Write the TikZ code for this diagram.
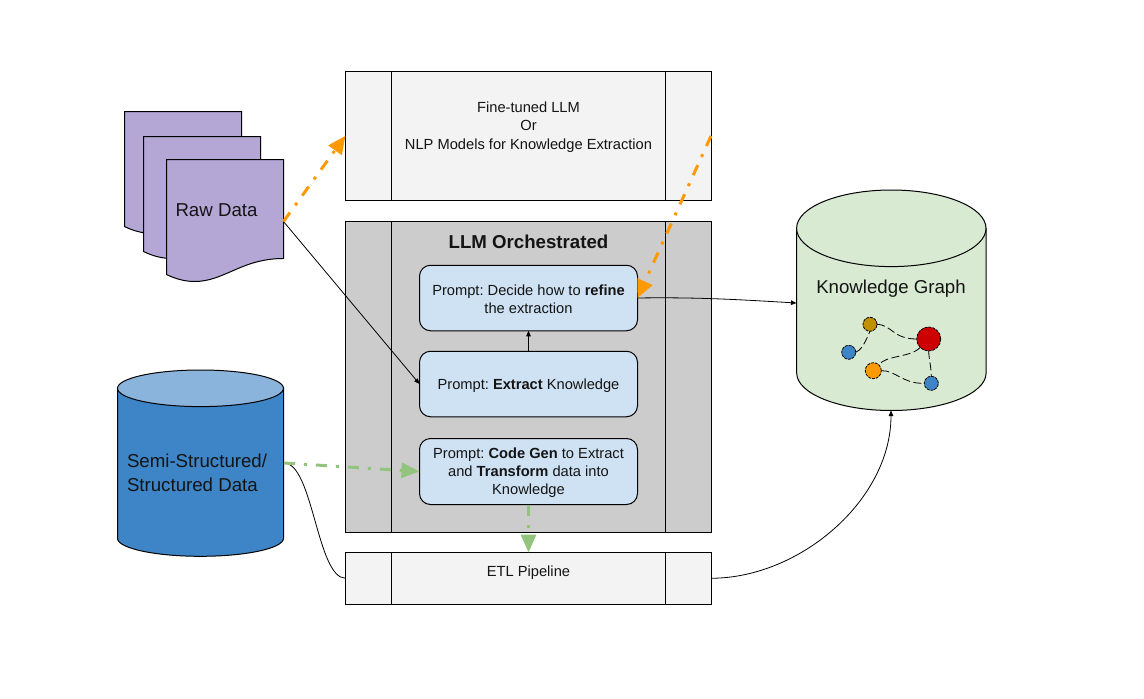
\documentclass[tikz,border=0pt]{standalone}
\usepackage{fontspec}
\setmainfont{Liberation Sans}
\usetikzlibrary{arrows.meta,calc}
\AtBeginDocument{\frenchspacing}
\definecolor{procgray}{HTML}{F3F3F3}
\definecolor{llmgray}{HTML}{CCCCCC}
\definecolor{promptblue}{HTML}{CFE2F3}
\definecolor{docpurple}{HTML}{B4A7D6}
\definecolor{dbblue}{HTML}{3D85C6}
\definecolor{dbtop}{HTML}{8AB4DC}
\definecolor{kggreen}{HTML}{D9EAD3}
\definecolor{flowgreen}{HTML}{93C47D}
\definecolor{floworange}{HTML}{FF9900}
\definecolor{nodered}{HTML}{CC0000}
\definecolor{nodetan}{HTML}{BF9000}
\tikzset{
  x=1pt,y=-1pt,
  every node/.style={inner sep=0pt,outer sep=0pt,text=black!92,align=center},
  procbox/.style={draw=black,line width=1pt,rectangle,minimum width=366pt},
  promptbox/.style={draw=black,line width=1pt,rounded corners=11pt,fill=promptblue,minimum width=218pt,minimum height=65.5pt,font=\fontsize{14.67}{18}\selectfont},
  docshape/.style={draw=black,line width=1pt,fill=docpurple},
  dbshape/.style={draw=black,line width=1pt},
  blacklink/.style={draw=black,line width=0.8pt,-{Triangle[length=5.5pt,width=4.5pt]}},
  plainlink/.style={draw=black,line width=0.8pt},
  orangelink/.style={draw=floworange,line width=3pt,dash pattern=on 11pt off 9pt on 3pt off 9pt,-{Triangle[length=18pt,width=16pt]}},
  greenlink/.style={draw=flowgreen,line width=3pt,dash pattern=on 11pt off 9pt on 3pt off 9pt,-{Triangle[length=18pt,width=15pt]}},
  gnode/.style={circle,draw=black,line width=0.8pt,dash pattern=on 3pt off 1pt},
  gedge/.style={draw=black,line width=0.8pt,dash pattern=on 8pt off 3.5pt},
}
\begin{document}
\begin{tikzpicture}
\useasboundingbox (0,0) rectangle (1144,699);

% Stacked documents
\newcommand{\docpath}[1]{%
  \begin{scope}[shift={(#1)}]
    \draw[docshape] (0,0) -- (117,0) -- (117,99) .. controls (75,99) and (58,122) .. (28,122)
      .. controls (18,122) and (8,119) .. (0,115) -- cycle;
  \end{scope}}
\docpath{124.5,111.5}
\docpath{143.5,136.5}
\docpath{166.5,159.5}
\node (rawlabel) [font=\fontsize{18.67}{22}\selectfont] at (216.5,210) {Raw Data};
\coordinate (rawout) at (283.5,221.5);

% Semi-structured database
\draw[dbshape,fill=dbblue] (117.5,388.3) -- (117.5,538.3) arc[start angle=180,end angle=360,x radius=83,y radius=-18] -- (283.5,388.3) -- cycle;
\draw[dbshape,fill=dbtop] (200.5,388.3) ellipse[x radius=83,y radius=18.3];
\node (dblabel) [font=\fontsize{18.67}{23.5}\selectfont,align=left,anchor=west] at (127,473) {Semi-Structured/\\Structured Data};
\coordinate (dbout) at (284,463);

% Knowledge graph cylinder
\draw[dbshape,fill=kggreen] (796.7,228.3) -- (796.7,373) arc[start angle=180,end angle=360,x radius=94.7,y radius=-37.5] -- (986,228.3) -- cycle;
\draw[dbshape,fill=kggreen] (891.3,228.3) ellipse[x radius=94.7,y radius=38.3];
\node (kglabel) [font=\fontsize{18.67}{22}\selectfont] at (891,289) {Knowledge Graph};
\coordinate (kgleft) at (796.5,303);
\coordinate (kgbottom) at (891,410.5);

% Fine-tuned model box
\node (model) [procbox,fill=procgray,minimum height=129.5pt] at (528.5,135.75) {};
\draw[line width=1pt] (391.5,71) -- (391.5,200.5) (665.5,71) -- (665.5,200.5);
\node (modeltext) [font=\fontsize{14.67}{18.5}\selectfont] at (528.5,127) {Fine-tuned LLM\\Or\\NLP Models for Knowledge Extraction};
\coordinate (modelout) at (711,136);

% LLM orchestrated box
\node (llm) [procbox,fill=llmgray,minimum height=310.5pt] at (528.5,376.75) {};
\draw[line width=1pt] (391.5,221.5) -- (391.5,532) (665.5,221.5) -- (665.5,532);
\node (llmtitle) [font=\bfseries\fontsize{18.67}{22}\selectfont] at (528.5,242) {LLM Orchestrated};

% Prompts
\node (refine) [promptbox] at (528.5,298) {};
\node (refinetext) [font=\fontsize{14.67}{18}\selectfont] at (528.5,299) {Prompt: Decide how to \textbf{refine}\\the extraction};
\node (extract) [promptbox] at (528.5,384) {};
\node (extracttext) [font=\fontsize{14.67}{18}\selectfont] at (528.5,385.5) {Prompt: \textbf{Extract} Knowledge};
\node (codegen) [promptbox,minimum height=66pt] at (528.5,471.5) {};
\node (codegentext) [font=\fontsize{14.67}{18}\selectfont] at (528.5,472.5) {Prompt: \textbf{Code Gen} to Extract\\and \textbf{Transform} data into\\Knowledge};

% ETL box
\node (etl) [procbox,fill=procgray,minimum height=51.5pt] at (528.5,578.25) {};
\draw[line width=1pt] (391.5,552.5) -- (391.5,604);
\draw[line width=1pt] (665.5,552.5) -- (665.5,604);
\node (etltext) [font=\fontsize{14.67}{18}\selectfont] at (528.5,573) {ETL Pipeline};

% Graph glyph
\node (g1) [gnode,fill=nodetan,minimum size=14pt] at (870,324.3) {};
\node (g2) [gnode,fill=dbblue,minimum size=14pt] at (848.7,352.3) {};
\node (g3) [gnode,fill=nodered,minimum size=24pt] at (928.7,339) {};
\node (g4) [gnode,fill=floworange,minimum size=16pt] at (873.3,370.7) {};
\node (g5) [gnode,fill=dbblue,minimum size=14pt] at (931.3,383.3) {};
\draw[gedge] (g2.east) .. controls (861,350) and (864,345) .. (g1.south);
\draw[gedge] (g1.east) .. controls (892,325) and (893,339) .. (g3.west);
\draw[gedge] (g3.south west) .. controls (910,358) and (885,355) .. (g4.north east);
\draw[gedge] (g4.east) .. controls (895,370) and (903,384) .. (g5.west);
\draw[gedge] (g3.south) .. controls (929,360) and (931,365) .. (g5.north);

% Connectors
\draw[blacklink] (rawout) -- (extract.west);
\draw[blacklink] (extract.north) -- (refine.south);
\draw[blacklink] (refine.east) .. controls (700,297) and (745,300) .. (kgleft);
\draw[plainlink] (dbout) .. controls (313,463) and (317,578) .. (etl.west);
\draw[blacklink] (etl.east) .. controls (800,578) and (891,500) .. (kgbottom);

\draw[orangelink] (rawout) -- (model.west);
\draw[orangelink] (modelout) -- (refine.east);
\draw[greenlink] (dbout) -- (codegen.west);
\draw[greenlink] (codegen.south) -- (etl.north);
\end{tikzpicture}
\end{document}
